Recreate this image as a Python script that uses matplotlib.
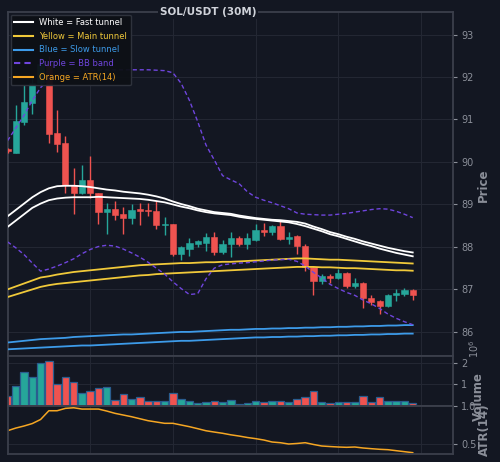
import matplotlib
matplotlib.use("Agg")
import matplotlib.pyplot as plt
import numpy as np
from matplotlib.lines import Line2D

BG = "#131722"
GRID = "#232733"
SPINE = "#3b3f4b"
TICK = "#8b8f99"
UP = "#26a69a"
DOWN = "#ef5350"
WHITE = "#ffffff"
YELLOW = "#f0c93a"
BLUE = "#3d9be9"
PURPLE = "#6f45dd"
ORANGE = "#f5a623"

# candles (30m bars)
opens = [90.30, 90.22, 90.94, 91.38, 91.85, 92.30, 90.68, 90.45, 89.45, 89.26,
         89.57, 89.26, 88.82, 88.90, 88.77, 88.68, 88.87, 88.87, 88.84, 88.51,
         88.53, 87.84, 87.96, 88.06, 88.10, 88.24, 87.88, 88.06, 88.21, 88.08,
         88.17, 88.39, 88.35, 88.49, 88.18, 88.25, 88.02, 87.53, 87.20, 87.31,
         87.27, 87.39, 87.08, 87.15, 86.80, 86.72, 86.60, 86.86, 86.90, 86.98]
highs = [90.34, 91.35, 91.82, 92.05, 92.45, 92.50, 91.22, 90.60, 89.85, 89.92,
         90.14, 89.28, 89.03, 89.08, 88.93, 89.00, 89.04, 89.04, 89.08, 88.71,
         88.55, 88.02, 88.21, 88.16, 88.32, 88.34, 88.16, 88.34, 88.26, 88.32,
         88.53, 88.57, 88.52, 88.64, 88.35, 88.27, 88.08, 87.55, 87.37, 87.37,
         87.49, 87.41, 87.26, 87.17, 86.86, 86.74, 86.90, 87.00, 87.04, 87.00]
lows = [90.22, 90.20, 90.86, 91.12, 91.80, 90.44, 90.24, 89.28, 88.77, 89.24,
        89.16, 88.53, 88.31, 88.64, 88.31, 88.53, 88.51, 88.72, 88.43, 88.28,
        87.78, 87.69, 87.78, 87.99, 87.91, 87.80, 87.84, 87.76, 88.02, 87.95,
        88.15, 88.26, 88.29, 88.16, 88.08, 87.84, 87.44, 86.88, 87.12, 87.14,
        87.25, 87.03, 87.04, 86.57, 86.63, 86.43, 86.58, 86.72, 86.84, 86.75]
closes = [90.27, 90.96, 91.40, 91.85, 92.30, 90.67, 90.43, 89.45, 89.26, 89.57,
          89.26, 88.82, 88.90, 88.76, 88.67, 88.86, 88.85, 88.84, 88.51, 88.55,
          87.84, 87.99, 88.09, 88.13, 88.24, 87.88, 88.06, 88.21, 88.06, 88.20,
          88.39, 88.35, 88.49, 88.18, 88.24, 88.02, 87.53, 87.19, 87.31, 87.27,
          87.39, 87.07, 87.15, 86.79, 86.71, 86.60, 86.86, 86.92, 86.98, 86.88]

# volume in millions
volume = [0.43, 0.92, 1.58, 1.35, 1.97, 2.08, 1.01, 1.31, 1.12, 0.61,
          0.66, 0.84, 0.87, 0.27, 0.54, 0.32, 0.41, 0.23, 0.23, 0.23,
          0.61, 0.30, 0.24, 0.12, 0.19, 0.24, 0.15, 0.26, 0.09, 0.12,
          0.24, 0.15, 0.21, 0.21, 0.18, 0.32, 0.40, 0.69, 0.19, 0.12,
          0.19, 0.19, 0.15, 0.43, 0.17, 0.38, 0.23, 0.24, 0.24, 0.12]

# fast tunnel (white)
fast_a = [88.72, 88.87, 89.02, 89.17, 89.29, 89.38, 89.43, 89.44, 89.44, 89.43,
          89.41, 89.38, 89.35, 89.33, 89.30, 89.28, 89.26, 89.23, 89.19, 89.14,
          89.07, 89.01, 88.96, 88.90, 88.86, 88.82, 88.80, 88.78, 88.74, 88.71,
          88.68, 88.66, 88.64, 88.63, 88.61, 88.59, 88.55, 88.48, 88.42, 88.35,
          88.30, 88.24, 88.19, 88.13, 88.08, 88.03, 87.98, 87.94, 87.90, 87.87]
fast_b = [88.47, 88.62, 88.77, 88.92, 89.02, 89.10, 89.14, 89.16, 89.17, 89.17,
          89.17, 89.18, 89.17, 89.16, 89.15, 89.14, 89.13, 89.11, 89.08, 89.05,
          89.00, 88.95, 88.91, 88.86, 88.82, 88.79, 88.77, 88.75, 88.71, 88.68,
          88.66, 88.64, 88.62, 88.60, 88.58, 88.54, 88.49, 88.43, 88.37, 88.30,
          88.25, 88.19, 88.13, 88.07, 88.02, 87.96, 87.91, 87.86, 87.82, 87.78]

# main tunnel (yellow)
main_a = [87.00, 87.07, 87.14, 87.21, 87.28, 87.31, 87.35, 87.38, 87.41, 87.43,
          87.45, 87.47, 87.49, 87.51, 87.53, 87.55, 87.57, 87.58, 87.59, 87.60,
          87.61, 87.62, 87.62, 87.63, 87.64, 87.64, 87.65, 87.65, 87.66, 87.67,
          87.68, 87.69, 87.70, 87.71, 87.72, 87.73, 87.73, 87.72, 87.71, 87.70,
          87.70, 87.69, 87.68, 87.67, 87.66, 87.65, 87.64, 87.63, 87.62, 87.61]
main_b = [86.82, 86.88, 86.94, 87.00, 87.06, 87.10, 87.13, 87.15, 87.17, 87.19,
          87.21, 87.23, 87.25, 87.27, 87.29, 87.31, 87.33, 87.34, 87.36, 87.37,
          87.38, 87.39, 87.40, 87.41, 87.42, 87.43, 87.44, 87.45, 87.46, 87.47,
          87.48, 87.49, 87.50, 87.51, 87.52, 87.53, 87.53, 87.53, 87.52, 87.52,
          87.51, 87.50, 87.50, 87.49, 87.48, 87.47, 87.46, 87.45, 87.45, 87.44]

# slow tunnel (blue)
slow_a = [85.75, 85.77, 85.79, 85.81, 85.83, 85.84, 85.85, 85.86, 85.88, 85.89,
          85.90, 85.91, 85.92, 85.93, 85.94, 85.94, 85.95, 85.96, 85.97, 85.98,
          85.99, 86.00, 86.00, 86.01, 86.02, 86.03, 86.04, 86.05, 86.05, 86.06,
          86.07, 86.07, 86.08, 86.08, 86.09, 86.09, 86.10, 86.10, 86.11, 86.11,
          86.12, 86.12, 86.13, 86.13, 86.14, 86.14, 86.15, 86.15, 86.16, 86.16]
slow_b = [85.59, 85.60, 85.61, 85.62, 85.63, 85.64, 85.65, 85.66, 85.67, 85.68,
          85.68, 85.69, 85.70, 85.71, 85.72, 85.73, 85.74, 85.75, 85.76, 85.77,
          85.78, 85.79, 85.79, 85.80, 85.81, 85.82, 85.83, 85.84, 85.85, 85.86,
          85.87, 85.87, 85.88, 85.88, 85.89, 85.89, 85.90, 85.90, 85.91, 85.91,
          85.92, 85.92, 85.93, 85.93, 85.94, 85.94, 85.95, 85.95, 85.96, 85.96]

# bollinger bands (purple)
bb_upper = [90.50, 90.80, 91.10, 91.45, 91.75, 91.95, 92.05, 92.10, 92.12, 92.14,
            92.15, 92.16, 92.17, 92.17, 92.17, 92.17, 92.17, 92.17, 92.16, 92.15,
            92.10, 91.85, 91.45, 90.95, 90.40, 90.05, 89.68, 89.58, 89.49, 89.30,
            89.17, 89.10, 89.04, 88.97, 88.90, 88.80, 88.77, 88.76, 88.75, 88.75,
            88.77, 88.79, 88.82, 88.85, 88.88, 88.90, 88.89, 88.84, 88.77, 88.69]
bb_lower = [88.12, 87.98, 87.82, 87.62, 87.43, 87.48, 87.55, 87.63, 87.72, 87.84,
            87.94, 88.01, 88.04, 88.02, 87.95, 87.86, 87.76, 87.64, 87.50, 87.36,
            87.18, 87.02, 86.88, 86.90, 87.25, 87.50, 87.58, 87.60, 87.62, 87.63,
            87.65, 87.67, 87.69, 87.70, 87.71, 87.66, 87.55, 87.40, 87.27, 87.12,
            87.02, 86.93, 86.86, 86.75, 86.66, 86.55, 86.42, 86.32, 86.24, 86.17]

# ATR(14)
atr = [0.673, 0.708, 0.735, 0.767, 0.820, 0.934, 0.934, 0.965, 0.973, 0.956,
       0.956, 0.956, 0.930, 0.900, 0.878, 0.856, 0.830, 0.804, 0.787, 0.770,
       0.770, 0.748, 0.726, 0.700, 0.673, 0.656, 0.640, 0.620, 0.604, 0.585,
       0.570, 0.552, 0.526, 0.517, 0.500, 0.507, 0.517, 0.494, 0.474, 0.467,
       0.461, 0.457, 0.461, 0.448, 0.439, 0.431, 0.426, 0.413, 0.400, 0.387]

x = np.arange(len(closes))
o = np.array(opens)
c = np.array(closes)
up = c >= o
colors = np.where(up, UP, DOWN)

fig = plt.figure(figsize=(5, 4.62), dpi=100, facecolor=BG)
left, width = 0.016, 0.89
ax = fig.add_axes([left, 0.2301, width, 0.7439])
axv = fig.add_axes([left, 0.1219, width, 0.1082], sharex=ax)
axa = fig.add_axes([left, 0.0167, width, 0.1052], sharex=ax)

for a in (ax, axv, axa):
    a.set_facecolor(BG)
    a.yaxis.tick_right()
    a.tick_params(axis="y", colors=TICK, labelcolor=TICK, labelsize=7, length=3, pad=3)
    a.tick_params(axis="x", bottom=False, labelbottom=False)
    for s in a.spines.values():
        s.set_color(SPINE)
        s.set_linewidth(1.3)
    a.grid(True, color=GRID, linewidth=0.8)
    a.set_axisbelow(True)
    a.set_xticks([10, 20, 30, 40, 50])

# candles
body_bottom = np.minimum(o, c)
body_h = np.maximum(np.abs(c - o), 0.04)
ax.vlines(x, lows, highs, color=colors, linewidth=1.0, zorder=3)
ax.bar(x, body_h, bottom=body_bottom, width=0.75, color=colors, edgecolor=colors,
       linewidth=0.4, zorder=4)

ax.plot(x, fast_a, color=WHITE, lw=1.3, zorder=5)
ax.plot(x, fast_b, color=WHITE, lw=1.3, zorder=5)
ax.plot(x, main_a, color=YELLOW, lw=1.3, zorder=5)
ax.plot(x, main_b, color=YELLOW, lw=1.3, zorder=5)
ax.plot(x, slow_a, color=BLUE, lw=1.3, zorder=5)
ax.plot(x, slow_b, color=BLUE, lw=1.3, zorder=5)
ax.plot(x, bb_upper, color=PURPLE, lw=1.0, ls=(0, (3, 2)), zorder=5)
ax.plot(x, bb_lower, color=PURPLE, lw=1.0, ls=(0, (3, 2)), zorder=5)

ax.set_xlim(0.06, 53.87)
ax.set_ylim(85.44, 93.53)
ax.set_yticks(range(86, 94))

axv.bar(x, volume, width=0.9, color=colors, edgecolor="#2a5d8f", linewidth=0.9)
axv.set_ylim(0, 2.32)
axv.set_yticks([1, 2])

axa.plot(x, atr, color=ORANGE, lw=1.1)
axa.set_ylim(0.366, 1.0)
axa.set_yticks([0.5, 1.0])
axa.set_yticklabels(["0.5", "1.0"])

handles = [
    Line2D([], [], color=WHITE, lw=1.5),
    Line2D([], [], color=YELLOW, lw=1.5),
    Line2D([], [], color=BLUE, lw=1.5),
    Line2D([], [], color=PURPLE, lw=1.5, ls=(0, (3, 2))),
    Line2D([], [], color=ORANGE, lw=1.5),
]
labels = ["White = Fast tunnel", "Yellow = Main tunnel", "Blue = Slow tunnel",
          "Purple = BB band", "Orange = ATR(14)"]
leg = ax.legend(handles, labels, loc="upper left", fontsize=6, frameon=True,
                facecolor="#0d1016", edgecolor="#30343e", framealpha=0.95,
                handlelength=2.3, handletextpad=0.7, borderaxespad=0.3,
                borderpad=0.45, labelspacing=0.55)
for t, col in zip(leg.get_texts(), [WHITE, YELLOW, BLUE, PURPLE, ORANGE]):
    t.set_color(col)
leg.set_zorder(10)

fig.text(208 / 500, 1 - 12 / 462, "SOL/USDT (30M)", ha="center", va="center",
         fontsize=7.5, fontweight="bold", color="#d0d3da",
         bbox=dict(facecolor=BG, edgecolor="none", pad=1.5))
fig.text(483 / 500, 1 - 185 / 462, "Price", rotation=90, ha="center", va="center",
         fontsize=8.5, fontweight="bold", color=TICK)
fig.text(478 / 500, 1 - 397 / 462, "Volume", rotation=90, ha="center", va="center",
         fontsize=8.5, fontweight="bold", color=TICK)
fig.text(484 / 500, 1 - 430 / 462, "ATR(14)", rotation=90, ha="center", va="center",
         fontsize=8.5, fontweight="bold", color=TICK)
fig.text(474 / 500, 1 - 349 / 462, r"$10^6$", rotation=90, ha="center", va="center",
         fontsize=7, color=TICK)

fig.savefig("out.png", dpi=100, facecolor=BG)
